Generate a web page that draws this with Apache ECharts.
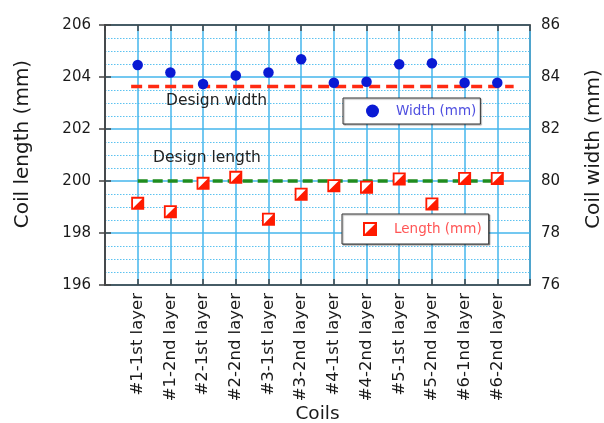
<!DOCTYPE html>
<html>
<head>
<meta charset="utf-8">
<script src="https://cdn.jsdelivr.net/npm/echarts@6/dist/echarts.min.js"></script>
<style>
html,body{margin:0;padding:0;background:#fff;}
#chart{width:604px;height:423px;}
</style>
</head>
<body>
<div id="chart"></div>
<script>
// ---- data ----
const categories = ['#1-1st layer','#1-2nd layer','#2-1st layer','#2-2nd layer','#3-1st layer','#3-2nd layer','#4-1st layer','#4-2nd layer','#5-1st layer','#5-2nd layer','#6-1nd layer','#6-2nd layer'];
const widthValues = [84.46, 84.17, 83.73, 84.06, 84.17, 84.68, 83.78, 83.82, 84.49, 84.53, 83.78, 83.78];
const lengthValues = [199.14, 198.82, 199.91, 200.14, 198.53, 199.49, 199.82, 199.76, 200.08, 199.12, 200.10, 200.10];
const designWidth = 83.63;
const designWidthSpan = [0.8, 12.5];
const designLength = 200;
const designLengthSpan = [1, 12];
const lengthTicks = [196, 198, 200, 202, 204, 206];
const widthTicks = [76, 78, 80, 82, 84, 86];

const FONT = 'DejaVu Sans';
const gridBlue = '#45b6ec';
const lengthSymbol = 'path://M0,0 L10,0 L10,10 L0,10 Z M1.4,1.4 L1.4,8.6 L8.6,1.4 Z';

const xCount = categories.length + 1;
const widthData = widthValues.map((v, i) => [i + 1, v]);
const lengthData = lengthValues.map((v, i) => [i + 1, v]);

const chart = echarts.init(document.getElementById('chart'), null, {renderer: 'canvas'});
chart.setOption({
  animation: false,
  backgroundColor: '#fff',
  textStyle: {fontFamily: FONT},
  grid: {left: 105, right: 74, top: 25, bottom: 138, show: true, borderColor: '#444', borderWidth: 1.5, backgroundColor: 'transparent', containLabel: false, outerBoundsMode: 'none'},
  legend: [
    {
      data: ['Width (mm)'], left: 343, top: 98, orient: 'horizontal',
      padding: [6, 4, 6, 23], itemWidth: 13, itemHeight: 13,
      backgroundColor: '#fff', borderColor: '#333', borderWidth: 1,
      shadowColor: 'rgba(0,0,0,0.35)', shadowOffsetX: 1, shadowOffsetY: 1, shadowBlur: 1,
      textStyle: {color: '#4f4fe0', fontSize: 13.5, fontFamily: FONT, padding: [0, 0, 0, 12]},
      selectedMode: false
    },
    {
      data: ['Length (mm)'], left: 342, top: 214, orient: 'horizontal',
      padding: [8, 7, 8, 21], itemWidth: 14, itemHeight: 14,
      backgroundColor: '#fff', borderColor: '#333', borderWidth: 1,
      shadowColor: 'rgba(0,0,0,0.35)', shadowOffsetX: 1, shadowOffsetY: 1, shadowBlur: 1,
      textStyle: {color: '#ff5555', fontSize: 13.5, fontFamily: FONT, padding: [0, 0, 0, 12]},
      selectedMode: false
    }
  ],
  xAxis: [
    {
      type: 'value', min: 0, max: xCount, interval: 1, position: 'bottom',
      name: 'Coils', nameLocation: 'middle', nameGap: 119, nameMoveOverlap: false,
      nameTextStyle: {fontSize: 18.5, color: '#1a1a1a', fontFamily: FONT, lineHeight: 20},
      axisLine: {show: true, lineStyle: {color: '#444', width: 1.5}},
      axisTick: {show: true, inside: true, length: 6, lineStyle: {color: '#444', width: 1.5}},
      axisLabel: {
        rotate: 90, margin: 8, fontSize: 16.5, color: '#1a1a1a', fontFamily: FONT,
        showMinLabel: true, showMaxLabel: true,
        formatter: v => categories[v - 1] || ''
      },
      splitLine: {show: true, lineStyle: {color: gridBlue, width: 1.5}}
    },
    {
      type: 'value', min: 0, max: xCount, interval: 1, position: 'top',
      axisLine: {show: true, lineStyle: {color: '#444', width: 1.5}},
      axisTick: {show: true, inside: true, length: 6, lineStyle: {color: '#444', width: 1.5}},
      axisLabel: {show: false},
      splitLine: {show: false}
    }
  ],
  yAxis: [
    {
      type: 'value', min: lengthTicks[0], max: lengthTicks[lengthTicks.length - 1], interval: lengthTicks[1] - lengthTicks[0],
      position: 'left',
      name: 'Coil length (mm)', nameLocation: 'middle', nameGap: 72, nameMoveOverlap: false,
      nameTextStyle: {fontSize: 20, color: '#1a1a1a', fontFamily: FONT, padding: [0, 0, 0, 22]},
      axisLine: {show: true, lineStyle: {color: '#444', width: 1.5}},
      axisTick: {show: true, inside: true, length: 6, lineStyle: {color: '#444', width: 1.5}},
      axisLabel: {margin: 14, fontSize: 15, color: '#1a1a1a', fontFamily: FONT},
      splitLine: {show: true, lineStyle: {color: gridBlue, width: 1.5}},
      minorTick: {show: false, splitNumber: 4},
      minorSplitLine: {show: true, lineStyle: {color: '#5cc2f0', width: 1, type: [1.5, 1.5]}}
    },
    {
      type: 'value', min: widthTicks[0], max: widthTicks[widthTicks.length - 1], interval: widthTicks[1] - widthTicks[0],
      position: 'right',
      name: 'Coil width (mm)', nameLocation: 'middle', nameGap: 54, nameRotate: 90, nameMoveOverlap: false,
      nameTextStyle: {fontSize: 20, color: '#1a1a1a', fontFamily: FONT, padding: [0, 0, 0, 12]},
      axisLine: {show: true, lineStyle: {color: '#444', width: 1.5}},
      axisTick: {show: true, inside: true, length: 6, lineStyle: {color: '#444', width: 1.5}},
      axisLabel: {margin: 11, fontSize: 15, color: '#1a1a1a', fontFamily: FONT},
      splitLine: {show: false}
    }
  ],
  graphic: [
    {type: 'text', left: 166, top: 93, z: 10, style: {text: 'Design width', font: '15.5px "DejaVu Sans"', fill: '#222'}},
    {type: 'text', left: 153, top: 150, z: 10, style: {text: 'Design length', font: '15.5px "DejaVu Sans"', fill: '#222'}}
  ],
  series: [
    {
      name: 'designWidth', type: 'line', yAxisIndex: 1, symbol: 'none', z: 2, silent: true,
      data: designWidthSpan.map(x => [x, designWidth]),
      lineStyle: {color: '#ff2a12', width: 3.5, type: [11, 6]}
    },
    {
      name: 'designLength', type: 'line', yAxisIndex: 0, symbol: 'none', z: 2, silent: true,
      data: designLengthSpan.map(x => [x, designLength]),
      lineStyle: {color: '#1f8c1f', width: 3.5, type: [10, 5]}
    },
    {
      name: 'Width (mm)', type: 'scatter', yAxisIndex: 1, symbol: 'circle', symbolSize: 10.5, z: 5,
      itemStyle: {color: '#0a1ad4', opacity: 1},
      data: widthData
    },
    {
      name: 'lengthBg', type: 'scatter', yAxisIndex: 0, symbol: 'rect', symbolSize: 12, z: 4, silent: true,
      itemStyle: {color: '#fff', opacity: 1},
      data: lengthData
    },
    {
      name: 'Length (mm)', type: 'scatter', yAxisIndex: 0, symbol: lengthSymbol, symbolSize: 13, z: 5,
      itemStyle: {color: '#ff1a00', opacity: 1},
      data: lengthData
    }
  ]
});
</script>
</body>
</html>
